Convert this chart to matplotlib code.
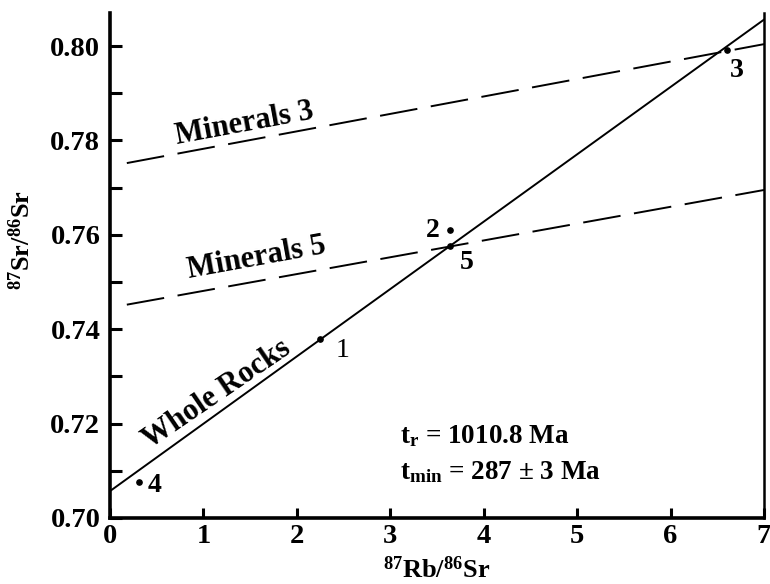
import matplotlib
matplotlib.use("Agg")
import matplotlib.pyplot as plt
import numpy as np
from matplotlib.ticker import MultipleLocator

plt.rcParams['font.family'] = ['Liberation Serif', 'DejaVu Serif']
plt.rcParams['font.weight'] = 'bold'
plt.rcParams['mathtext.fontset'] = 'custom'
plt.rcParams['mathtext.rm'] = 'Liberation Serif:bold'
plt.rcParams['mathtext.it'] = 'Liberation Serif:bold'
plt.rcParams['mathtext.bf'] = 'Liberation Serif:bold'

# Data
sample_ids = ["1", "2", "3", "4", "5"]
rb_sr = [2.25, 3.64, 6.60, 0.31, 3.64]
sr_sr = [0.7380, 0.7611, 0.7992, 0.7076, 0.7576]

whole_rock_x = [0.0, 7.0]
whole_rock_y = [0.7057, 0.8056]
min3_x = [0.18, 7.0]
min3_y = [0.7752, 0.8004]
min5_x = [0.18, 7.0]
min5_y = [0.7452, 0.7695]

xticks = [0, 1, 2, 3, 4, 5, 6, 7]
yticks = [0.70, 0.72, 0.74, 0.76, 0.78, 0.80]
ytick_labels = ["0.70", "0.72", "0.74", "0.76", "0.78", "0.80"]

fig = plt.figure(figsize=(7.7, 5.84), dpi=100)
ax = fig.add_axes([110/770, 1-518/584, (764-110)/770, (518-13)/584])

ax.plot(whole_rock_x, whole_rock_y, color='black', lw=1.4)
ax.plot(min3_x, min3_y, color='black', lw=1.4, linestyle=(0, (19.5, 7)))
ax.plot(min5_x, min5_y, color='black', lw=1.4, linestyle=(0, (19.5, 7)))
ax.plot(rb_sr, sr_sr, 'o', color='black', ms=3.8, zorder=5)

label_pos = {"1": (2.49, 0.7355), "2": (3.45, 0.7610), "3": (6.71, 0.7948),
             "4": (0.48, 0.7068), "5": (3.82, 0.7542)}
for sid in sample_ids:
    x, y = label_pos[sid]
    ax.text(x, y, sid, fontsize=20, ha='center', va='center',
            fontweight='normal' if sid == "1" else 'bold')

ax.text(1.14, 0.7263, "Whole Rocks", fontsize=22, rotation=34.3,
        ha='center', va='center', rotation_mode='anchor')
ax.text(1.44, 0.7836, "Minerals 3", fontsize=22, rotation=10.5,
        ha='center', va='center', rotation_mode='anchor')
ax.text(1.57, 0.7550, "Minerals 5", fontsize=22, rotation=10.3,
        ha='center', va='center', rotation_mode='anchor')

ax.text(3.10, 0.7158, r"t$_{\mathrm{r}}$ = 1010.8 Ma", fontsize=19.5, ha='left', va='baseline')
ax.text(3.10, 0.7083, r"t$_{\mathrm{min}}$ = 287 $\pm$ 3 Ma", fontsize=19.5, ha='left', va='baseline')

ax.set_xlim(0, 7)
ax.set_ylim(0.70, 0.807)
ax.set_xticks(xticks)
ax.set_yticks(yticks)
ax.set_yticklabels(ytick_labels)
ax.yaxis.set_minor_locator(MultipleLocator(0.01))

ax.spines['top'].set_visible(False)
ax.spines['left'].set_linewidth(2.6)
ax.spines['bottom'].set_linewidth(2.6)
ax.spines['right'].set_linewidth(1.8)

ax.tick_params(axis='both', which='both', direction='in', width=2.2, labelsize=20.5)
ax.tick_params(axis='y', which='both', length=8.5, pad=7, right=False)
ax.tick_params(axis='x', which='major', length=7.5, pad=4, top=False)

ax.set_xlabel(r"$^{87}$Rb/$^{86}$Sr", fontsize=19, fontweight='bold')
ax.set_ylabel(r"$^{87}$Sr/$^{86}$Sr", fontsize=19, fontweight='bold')
ax.xaxis.set_label_coords(0.50, -0.077)
ax.yaxis.set_label_coords(-0.115, 0.55)

fig.savefig("out.png", dpi=100)
